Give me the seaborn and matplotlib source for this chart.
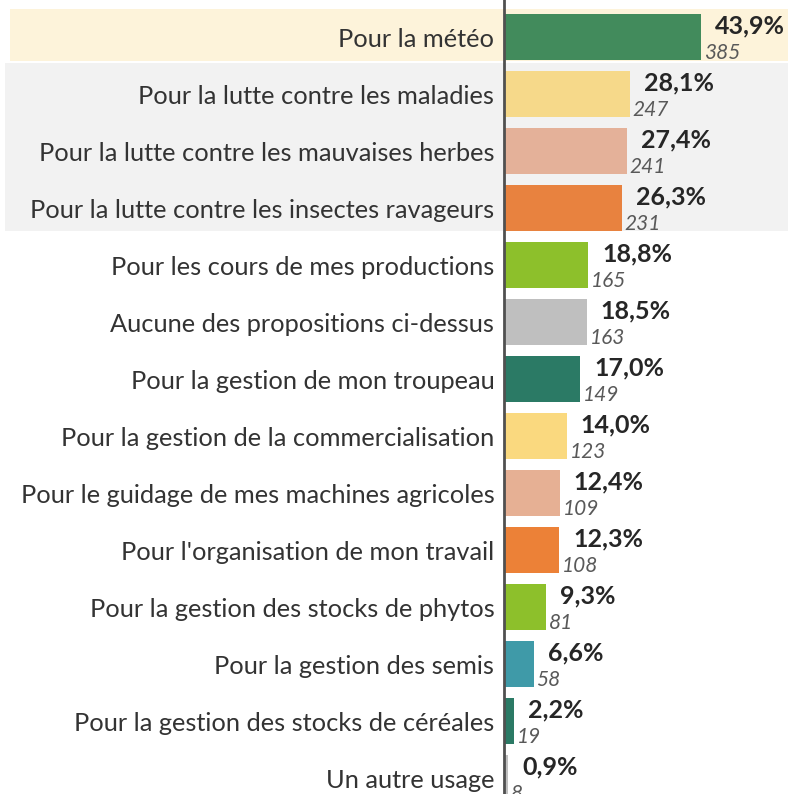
import matplotlib
matplotlib.use("Agg")
import matplotlib.pyplot as plt
import matplotlib.transforms as mtransforms
from matplotlib.patches import Rectangle
import pandas as pd
import seaborn as sns

# Data
usages = [
    "Pour la météo",
    "Pour la lutte contre les maladies",
    "Pour la lutte contre les mauvaises herbes",
    "Pour la lutte contre les insectes ravageurs",
    "Pour les cours de mes productions",
    "Aucune des propositions ci-dessus",
    "Pour la gestion de mon troupeau",
    "Pour la gestion de la commercialisation",
    "Pour le guidage de mes machines agricoles",
    "Pour l'organisation de mon travail",
    "Pour la gestion des stocks de phytos",
    "Pour la gestion des semis",
    "Pour la gestion des stocks de céréales",
    "Un autre usage",
]
percents = [43.9, 28.1, 27.4, 26.3, 18.8, 18.5, 17.0, 14.0, 12.4, 12.3, 9.3, 6.6, 2.2, 0.9]
counts = [385, 247, 241, 231, 165, 163, 149, 123, 109, 108, 81, 58, 19, 8]
colors = ["#428b5c", "#f6d98a", "#e4b199", "#e8823f", "#8dc02b", "#bfbfbf", "#2b7a65",
          "#fad97f", "#e6b094", "#ec8137", "#8dc02b", "#3f9aa8", "#2b7a65", "#bfbfbf"]

df = pd.DataFrame({"usage": usages, "pct": percents, "n": counts})

sns.set_style("white")
plt.rcParams["font.family"] = ["Lato", "DejaVu Sans"]

fig = plt.figure(figsize=(7.88, 7.94), dpi=100)
ax = fig.add_axes([504 / 788, 0, 1 - 504 / 788, 1])

sns.barplot(data=df, y="usage", x="pct", hue="usage", palette=colors,
            legend=False, width=0.8, saturation=1, ax=ax, orient="h")
for bar in ax.patches:
    bar.set_edgecolor("none")

ax.set_xlim(0, 63.3)
ax.set_ylim(13.28, -0.65)

# highlight bands behind the top rows
trans = mtransforms.blended_transform_factory(fig.transFigure, ax.transData)
fig.patches.append(Rectangle((10 / 788, -0.5), 1, 0.92, transform=trans,
                             facecolor="#fdf3da", edgecolor="none", zorder=-1))
fig.patches.append(Rectangle((5 / 788, 0.46), 1, 2.94, transform=trans,
                             facecolor="#f2f2f2", edgecolor="none", zorder=-1))
ax.patch.set_alpha(0)
fig.patch.set_facecolor("white")

for i, (p, n) in enumerate(zip(percents, counts)):
    ax.annotate(f"{p:.1f}%".replace(".", ","), (p, i - 0.2), xytext=(10, 0),
                textcoords="offset points", ha="left", va="center",
                fontsize=18, fontweight="bold", color="#262626")
    ax.annotate(str(n), (p, i + 0.28), xytext=(2, 0),
                textcoords="offset points", ha="left", va="center",
                fontsize=15, fontstyle="italic", color="#595959")

sns.despine(ax=ax, left=False, bottom=True, top=True, right=True)
ax.spines["left"].set_color("#505050")
ax.spines["left"].set_linewidth(2)
ax.set_xticks([])
ax.set_xlabel("")
ax.set_ylabel("")
ax.tick_params(axis="y", length=0, pad=7, labelsize=18.3, labelcolor="#333333")

fig.savefig("out.png", dpi=100)
